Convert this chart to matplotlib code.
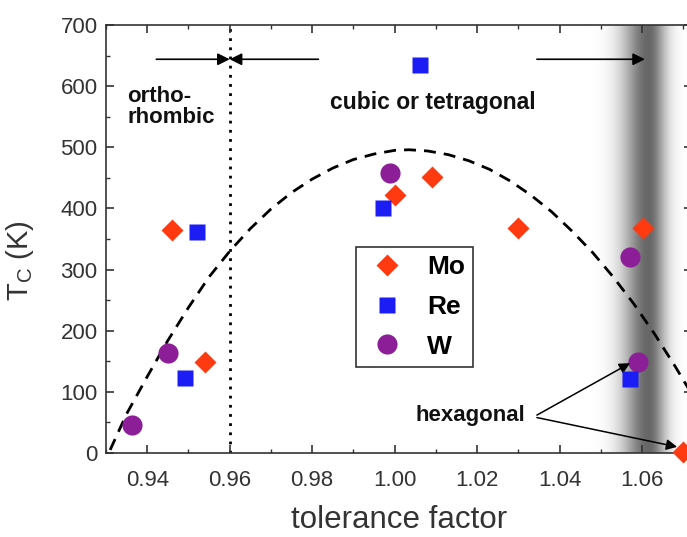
import numpy as np
import matplotlib
matplotlib.use("Agg")
import matplotlib.pyplot as plt

plt.rcParams["font.family"] = ["Liberation Sans", "DejaVu Sans"]

# data (tolerance factor, Tc in K)
mo_t = [0.9461, 0.9540, 1.0001, 1.0090, 1.0300, 1.0602, 1.0700]
mo_tc = [365, 149, 422, 451, 368, 368, 2]
re_t = [0.9520, 0.9492, 1.0062, 0.9972, 1.0571]
re_tc = [361, 123, 635, 401, 121]
w_t = [0.9364, 0.9451, 0.9989, 1.0571, 1.0590]
w_tc = [46, 163, 458, 321, 149]

# guide line (dashed)
guide_t = [0.931, 0.935, 0.940, 0.945, 0.950, 0.955, 0.960, 0.965, 0.970,
           0.975, 0.980, 0.985, 0.990, 0.995, 1.000, 1.0035, 1.008, 1.013,
           1.018, 1.023, 1.028, 1.033, 1.038, 1.043, 1.048, 1.053, 1.058,
           1.063, 1.068, 1.072]
guide_tc = [5, 64, 125, 184, 238, 288, 330, 367, 399, 426, 448, 466, 480,
            489, 495, 496, 494, 488, 478, 464, 445, 422, 395, 363, 328, 288,
            244, 195, 142, 97]

# phase boundaries
t_ortho = 0.96
t_hex = 1.0615

xticks = [0.94, 0.96, 0.98, 1.00, 1.02, 1.04, 1.06]
yticks = [0, 100, 200, 300, 400, 500, 600, 700]

fig = plt.figure(figsize=(6.87, 5.37), dpi=100)
ax = fig.add_axes([0.1543, 0.1564, 0.8523, 0.7970])
ax.set_xlim(0.930, 1.072)
ax.set_ylim(0, 700)

# gray shading marking the hexagonal boundary
xs = np.linspace(1.040, 1.072, 400)
sig = np.where(xs < t_hex, 0.0062, 0.0042)
shade = 0.6 * np.exp(-((xs - t_hex) / sig) ** 2)
rgba = np.zeros((1, len(xs), 4))
rgba[..., 3] = shade
ax.imshow(rgba, extent=[xs[0], xs[-1], 0, 700], aspect="auto",
          interpolation="bilinear", zorder=0)

ax.axvline(t_ortho, color="black", lw=2, linestyle=(0, (1, 2.3)), zorder=1)
ax.plot(guide_t, guide_tc, color="black", lw=2, linestyle=(0, (4.3, 2.9)),
        zorder=2)

ax.plot(mo_t, mo_tc, "D", color="#ff3a10", ms=11.5, mec="none", label="Mo",
        zorder=4, clip_on=False)
ax.plot(re_t, re_tc, "s", color="#1c1cf5", ms=12, mec="none", label="Re",
        zorder=4)
ax.plot(w_t, w_tc, "o", color="#8c1f98", ms=14.5, mec="none", label="W",
        zorder=3)

# arrows at the top
arr = dict(arrowstyle="-|>", mutation_scale=18, lw=1.2, color="black",
           shrinkA=0, shrinkB=0)
ax.annotate("", xy=(t_ortho, 644), xytext=(0.9422, 644), arrowprops=arr)
ax.annotate("", xy=(t_ortho, 644), xytext=(0.9815, 644), arrowprops=arr)
ax.annotate("", xy=(1.0607, 644), xytext=(1.0345, 644), arrowprops=arr)

ax.text(0.9352, 601, "ortho-\nrhombic", fontsize=16, fontweight="bold",
        va="top", ha="left", linespacing=1.05, color="#111111")
ax.text(1.0093, 574, "cubic or tetragonal", fontsize=16.5, fontweight="bold",
        va="center", ha="center", color="#111111")

hx = dict(arrowstyle="-|>", mutation_scale=16, lw=1.1, color="black",
          shrinkA=0, shrinkB=0)
ax.text(1.0316, 62, "hexagonal", fontsize=16, fontweight="bold",
        ha="right", va="center", color="#111111")
ax.annotate("", xy=(1.0571, 147), xytext=(1.0345, 62), arrowprops=hx)
ax.annotate("", xy=(1.0685, 10), xytext=(1.0345, 58), arrowprops=hx)

ax.set_xticks(xticks)
ax.set_xticklabels(["%.2f" % v for v in xticks])
ax.set_yticks(yticks)
ax.set_xticks(np.arange(0.93, 1.0721, 0.01), minor=True)
ax.set_yticks(np.arange(0, 701, 50), minor=True)
ax.tick_params(which="both", direction="in", top=True, right=True,
               colors="#333333", labelsize=16)
ax.tick_params(which="major", length=6, width=1.2)
ax.tick_params(which="minor", length=3, width=1)
ax.tick_params(axis="x", pad=12)
ax.tick_params(axis="y", pad=6)
for s in ax.spines.values():
    s.set_color("#333333")
    s.set_linewidth(1.2)

ax.set_xlabel("tolerance factor", fontsize=22.5, color="#333333",
              labelpad=10)
ax.set_ylabel(r"T$_\mathregular{C}$ (K)", fontsize=21, color="#333333")
ax.yaxis.set_label_coords(-0.12, 0.45)

leg = ax.legend(loc="upper left", bbox_to_anchor=(356 / 687, 1 - 247 / 537),
                bbox_transform=fig.transFigure, frameon=True, fancybox=False,
                edgecolor="black", labelspacing=0.6, borderpad=0.3,
                handlelength=1.75, handletextpad=0.65, borderaxespad=0,
                prop={"weight": "bold", "size": 19})
leg.get_frame().set_linewidth(1.2)

fig.savefig("out.png", dpi=100)
